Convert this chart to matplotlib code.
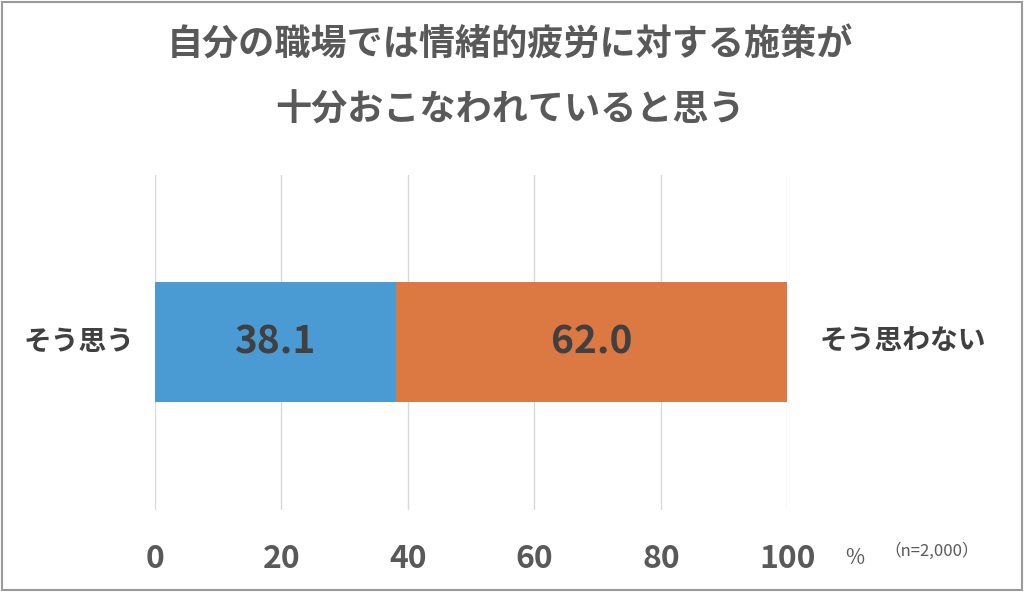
import matplotlib
matplotlib.use("Agg")
import matplotlib.pyplot as plt
from matplotlib.patches import Rectangle

plt.rcParams['font.family'] = ['Noto Sans CJK JP', 'DejaVu Sans']

title = "自分の職場では情緒的疲労に対する施策が\n十分おこなわれていると思う"
categories = ["そう思う", "そう思わない"]
values = [38.1, 62.0]
colors = ["#4A9BD3", "#DC7842"]
xticks = [0, 20, 40, 60, 80, 100]

fig = plt.figure(figsize=(10.24, 5.92), dpi=100)
fig.patches.append(Rectangle((0.002, 0.003), 0.996, 0.994, transform=fig.transFigure,
                             fill=False, edgecolor="#999999", lw=1.5))
ax = fig.add_axes([0.151, 0.139, 0.618, 0.566])

left = 0
for v, c in zip(values, colors):
    ax.barh(0, v, left=left, height=0.358, color=c)
    ax.text(left + v / 2, 0, f"{v:.1f}", ha="center", va="center",
            fontsize=28, fontweight="bold", color="#404040")
    left += v

ax.set_xlim(0, 100)
ax.set_ylim(-0.5, 0.5)
ax.set_xticks(xticks)
ax.set_xticklabels([str(t) for t in xticks], fontsize=23, fontweight="bold", color="#595959")
ax.tick_params(axis="x", length=0, pad=24)
ax.set_yticks([])
ax.grid(axis="x", color="#D9D9D9", lw=1)
ax.set_axisbelow(True)
for s in ax.spines.values():
    s.set_visible(False)

ax.text(-3.2, 0, categories[0], ha="right", va="center", fontsize=20,
        fontweight="bold", color="#404040")
ax.text(5 + 100, 0, categories[1], ha="left", va="center", fontsize=20,
        fontweight="bold", color="#404040")

fig.text(0.498, 0.924, title.split("\n")[0], ha="center", va="center",
         fontsize=26, fontweight="bold", color="#595959")
fig.text(0.498, 0.814, title.split("\n")[1], ha="center", va="center",
         fontsize=26, fontweight="bold", color="#595959")
fig.text(0.835, 0.058, "%", ha="center", va="center", fontsize=15, color="#595959")
fig.text(0.91, 0.068, "（n=2,000）", ha="center", va="center", fontsize=12, color="#595959")

fig.savefig("out.png", dpi=100)
